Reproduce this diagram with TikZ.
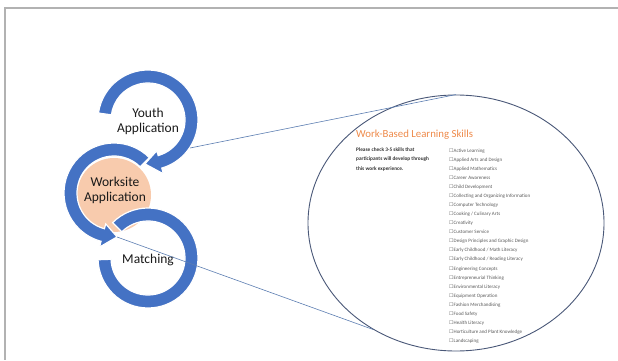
\documentclass[tikz,border=0pt]{standalone}
\usepackage{fontspec}
\setmainfont{Carlito}
\newfontfamily\boxfont{DejaVu Sans}
\usetikzlibrary{shapes.geometric}
\definecolor{ringblue}{HTML}{4472C4}
\definecolor{peach}{HTML}{F8CBAD}
\definecolor{skillorange}{HTML}{EE8A4A}
\definecolor{lensline}{HTML}{4A5878}
\definecolor{zoomblue}{HTML}{5B7DB1}
\tikzset{
  ring arrow/.style={
    fill=ringblue,
    draw=white,
    line width=1.2pt,
  },
  step label/.style={
    align=center,
    inner sep=0,
    text=black!90,
    font=\fontsize{13.5}{15}\selectfont,
  },
  zoom line/.style={
    draw=zoomblue,
    line width=0.6pt,
  },
  skill item/.style={
    anchor=base west,
    inner sep=0,
    text=black!65,
    font=\fontsize{5}{6}\selectfont,
  },
}

\begin{document}
\begin{tikzpicture}[x=1pt, y=1pt]
      \useasboundingbox (0,0) rectangle (618,360);
      \draw[gray!60, line width=1.3pt] (618,352) -- (5,352) -- (5,0);

      \coordinate (ctryouth) at (148,240);
      \coordinate (ctrwork)  at (114,167);
      \coordinate (ctrmatch) at (148,102);

      % worksite ring, under the others
      \begin{scope}[shift={(ctrwork)}]
        \fill[peach] (0,-2) circle[radius=37];
        \path[ring arrow] (45:50) arc[start angle=45, end angle=255, radius=50]
          -- (255:56) -- (274:44) -- (255:32) -- (255:37)
          arc[start angle=255, end angle=45, radius=37] -- cycle;
      \end{scope}
      \begin{scope}[shift={(ctrmatch)}]
        \path[ring arrow] (135:50) arc[start angle=135, end angle=-178, radius=50]
          -- (-178:37) arc[start angle=-178, end angle=135, radius=37] -- cycle;
      \end{scope}
      \begin{scope}[shift={(ctryouth)}]
        \path[ring arrow] (172:50) arc[start angle=172, end angle=-74, radius=50]
          -- (-74:56) -- (-94:44) -- (-74:32) -- (-74:37)
          arc[start angle=-74, end angle=172, radius=37] -- cycle;
      \end{scope}

      \node[step label] (youth)    at (148,239) {Youth\\Application};
      \node[step label] (worksite) at (115,170) {Worksite\\Application};
      \node[step label] (matching) at (148,100) {Matching};

      % the form, seen through the lens
      \begin{scope}
        \clip (456,137) ellipse[x radius=147.5, y radius=127.5];
        \node[anchor=base west, inner sep=0, text=skillorange, font=\fontsize{10.8}{12}\selectfont]
          (title) at (356,222.5) {Work-Based Learning Skills};
        \node[anchor=north west, inner sep=0, align=left, text=black!80, font=\bfseries\fontsize{5.3}{9.5}\selectfont]
          (hint) at (356,212.5) {Please check 3-5 skills that\\participants will develop through\\this work experience.};
        \foreach \skill [count=\i from 0] in {Active Learning, Applied Arts and Design,
            Applied Mathematics, Career Awareness, Child Development,
            Collecting and Organizing Information, Computer Technology,
            Cooking / Culinary Arts, Creativity, Customer Service,
            Design Principles and Graphic Design, Early Childhood / Math Literacy,
            Early Childhood / Reading Literacy, Engineering Concepts,
            Entrepreneurial Thinking, Environmental Literacy, Equipment Operation,
            Fashion Merchandising, Food Safety, Health Literacy,
            Horticulture and Plant Knowledge, Landscaping}
          \node[skill item] (skill\i) at (449,{208-9.08*\i}) {{\boxfont ☐}\skill};
      \end{scope}
      \node[ellipse, draw=lensline, line width=0.9pt, minimum width=296, minimum height=256, inner sep=0]
        (lens) at (456,137) {};

      \coordinate (youthedge) at (190,212);
      \coordinate (worktip)   at (117,123);
      \draw[zoom line] (youthedge) -- (lens.north);
      \draw[zoom line] (worktip) -- (lens.232);
\end{tikzpicture}
\end{document}
